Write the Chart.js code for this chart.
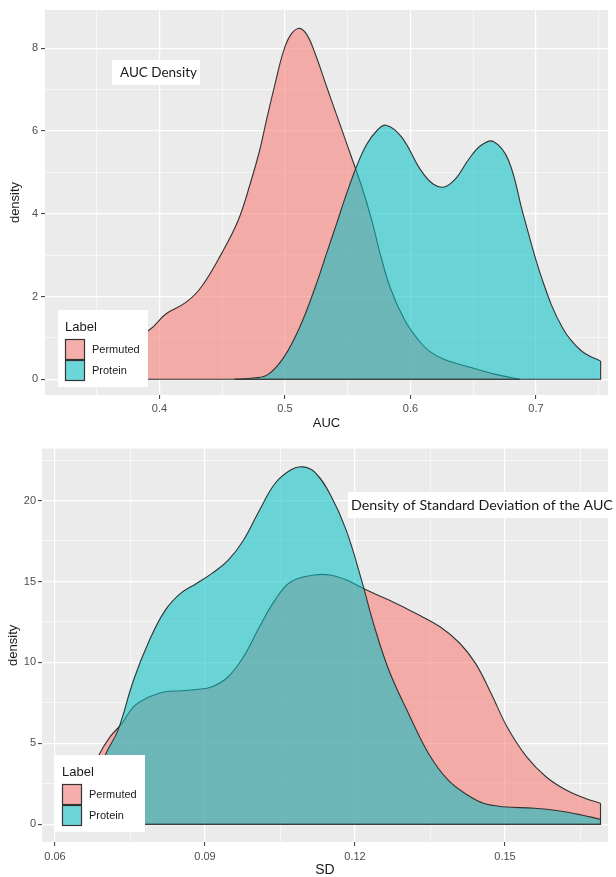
<!DOCTYPE html>
<html>
<head>
<meta charset="utf-8">
<script src="https://cdn.jsdelivr.net/npm/chart.js@4.4.1/dist/chart.umd.min.js"></script>
<style>
  html, body { margin: 0; padding: 0; background: #fff; }
  #wrap { position: relative; width: 616px; height: 877px; }
  canvas { position: absolute; left: 0; }
  #aucChart { top: 0; }
  #sdChart { top: 440px; }
</style>
</head>
<body>
<div id="wrap">
  <canvas id="aucChart" width="616" height="440"></canvas>
  <canvas id="sdChart" width="616" height="437"></canvas>
</div>
<script>
// values
const seriesLabels = ['Permuted', 'Protein'];

const aucPermutedX = [0.335, 0.35, 0.37, 0.3926, 0.405, 0.421, 0.433, 0.4496, 0.4628, 0.4725, 0.4795, 0.4855, 0.4915, 0.4985, 0.504, 0.5106, 0.517, 0.5239, 0.5332, 0.5425, 0.5518, 0.5611, 0.5691, 0.5757, 0.584, 0.595, 0.605, 0.615, 0.627, 0.649, 0.668, 0.687];
const aucPermutedY = [0, 0.35, 0.8, 1.21, 1.58, 1.86, 2.22, 3.05, 3.85, 4.75, 5.5, 6.3, 7.07, 7.9, 8.3, 8.48, 8.35, 7.88, 7.07, 6.27, 5.47, 4.66, 3.85, 3.05, 2.2, 1.45, 1.0, 0.68, 0.48, 0.28, 0.12, 0];
const aucProteinX = [0.46, 0.475, 0.4866, 0.499, 0.5116, 0.524, 0.5332, 0.5412, 0.5492, 0.5571, 0.5651, 0.5735, 0.5805, 0.5928, 0.6083, 0.618, 0.627, 0.636, 0.646, 0.656, 0.666, 0.678, 0.6897, 0.7053, 0.721, 0.736, 0.7515];
const aucProteinY = [0, 0.03, 0.12, 0.53, 1.25, 2.22, 3.05, 3.77, 4.5, 5.15, 5.68, 6.02, 6.14, 5.86, 5.05, 4.72, 4.65, 4.85, 5.3, 5.65, 5.75, 5.3, 4.0, 2.38, 1.25, 0.69, 0.44];

const sdPermutedX = [0.0625, 0.0655, 0.0686, 0.071, 0.0734, 0.0757, 0.0789, 0.082, 0.0851, 0.0883, 0.0914, 0.0946, 0.0977, 0.1009, 0.104, 0.1072, 0.1119, 0.115, 0.1182, 0.1221, 0.1268, 0.1323, 0.137, 0.1409, 0.1441, 0.1472, 0.1504, 0.1543, 0.1582, 0.1622, 0.1661, 0.1691];
const sdPermutedY = [0, 2.0, 4.18, 5.4, 6.23, 7.26, 7.88, 8.19, 8.25, 8.33, 8.5, 9.1, 10.35, 12.2, 13.85, 14.98, 15.4, 15.4, 15.1, 14.5, 13.85, 13.0, 12.2, 11.2, 9.94, 8.1, 6.03, 4.18, 2.94, 2.12, 1.6, 1.3];
const sdProteinX = [0.064, 0.067, 0.0702, 0.0726, 0.0757, 0.0789, 0.082, 0.0851, 0.0883, 0.0914, 0.0946, 0.0977, 0.1009, 0.104, 0.1072, 0.1095, 0.1119, 0.115, 0.1182, 0.1213, 0.1237, 0.1268, 0.1307, 0.1347, 0.1386, 0.1425, 0.1457, 0.1496, 0.1559, 0.1606, 0.1653, 0.1691];
const sdProteinY = [0, 2.0, 4.38, 5.82, 8.9, 11.38, 13.2, 14.26, 14.88, 15.5, 16.3, 17.55, 19.4, 21.05, 21.9, 22.08, 21.77, 20.4, 18.2, 15.1, 12.4, 9.5, 6.85, 4.38, 2.74, 1.81, 1.3, 1.09, 0.99, 0.84, 0.58, 0.31];

// tick positions
const aucMajorX = [0.4, 0.5, 0.6, 0.7];
const aucMinorX = [0.35, 0.45, 0.55, 0.65, 0.75];
const aucMajorY = [0, 2, 4, 6, 8];
const aucMinorY = [1, 3, 5, 7];
const sdMajorX = [0.06, 0.09, 0.12, 0.15];
const sdMinorX = [0.075, 0.105, 0.135, 0.165];
const sdMajorY = [0, 5, 10, 15, 20];
const sdMinorY = [2.5, 7.5, 12.5, 17.5, 22.5];

const fills = ['rgba(248,118,109,0.55)', 'rgba(0,191,196,0.55)'];
const AXIS_FONT = '"Liberation Sans", Arial, sans-serif';

const toPoints = (xs, ys) => xs.map((x, i) => ({ x: x, y: ys[i] }));

// grey panel like ggplot
const panelBg = {
  id: 'panelBg',
  beforeDraw(chart) {
    const { ctx, chartArea: a } = chart;
    ctx.save();
    ctx.fillStyle = '#ebebeb';
    ctx.fillRect(a.left, a.top, a.right - a.left, a.bottom - a.top);
    ctx.restore();
  }
};

// side edges and baseline of each density polygon
const outlineEdges = {
  id: 'outlineEdges',
  afterDatasetDraw(chart, args) {
    const ds = chart.data.datasets[args.index];
    const d = ds.data;
    const xs = chart.scales.x, ys = chart.scales.y;
    const { ctx, chartArea: a } = chart;
    const x0 = xs.getPixelForValue(d[0].x), x1 = xs.getPixelForValue(d[d.length - 1].x);
    const base = ys.getPixelForValue(0);
    ctx.save();
    ctx.beginPath();
    ctx.rect(a.left, a.top, a.right - a.left, a.bottom - a.top);
    ctx.clip();
    ctx.beginPath();
    ctx.moveTo(x0, ys.getPixelForValue(d[0].y));
    ctx.lineTo(x0, base);
    ctx.lineTo(x1, base);
    ctx.lineTo(x1, ys.getPixelForValue(d[d.length - 1].y));
    ctx.strokeStyle = ds.borderColor;
    ctx.lineWidth = ds.borderWidth;
    ctx.stroke();
    ctx.restore();
  }
};

const boxLabel = {
  id: 'boxLabel',
  afterDatasetsDraw(chart, args, o) {
    const ctx = chart.ctx;
    ctx.save();
    ctx.fillStyle = '#ffffff';
    ctx.fillRect(o.box[0], o.box[1], o.box[2], o.box[3]);
    ctx.font = '14px Lato';
    const size = 14 * o.textWidth / ctx.measureText(o.text).width;
    ctx.font = size.toFixed(2) + 'px Lato';
    ctx.fillStyle = '#1a1a1a';
    ctx.textBaseline = 'middle';
    ctx.fillText(o.text, o.tx, o.ty);
    ctx.restore();
  }
};

const ggLegend = {
  id: 'ggLegend',
  afterDraw(chart, args, o) {
    const ctx = chart.ctx;
    ctx.save();
    ctx.fillStyle = '#ffffff';
    ctx.fillRect(o.x, o.y, o.w, o.h);
    ctx.fillStyle = '#1a1a1a';
    ctx.textBaseline = 'middle';
    ctx.font = '13px ' + AXIS_FONT;
    ctx.fillText('Label', o.x + 7, o.y + 17);
    const items = seriesLabels.map(l => chart.data.datasets.find(ds => ds.label === l));
    items.forEach((ds, i) => {
      const ky = o.y + 29 + i * 21;
      const kx = o.x + 7;
      ctx.fillStyle = '#f2f2f2';
      ctx.fillRect(kx, ky, 20, 21);
      ctx.fillStyle = ds.backgroundColor;
      ctx.fillRect(kx, ky, 20, 21);
      ctx.strokeStyle = '#333333';
      ctx.lineWidth = 1.2;
      ctx.strokeRect(kx + 0.5, ky + 0.5, 19, 20);
      ctx.fillStyle = '#1a1a1a';
      ctx.font = '11px ' + AXIS_FONT;
      ctx.fillText(ds.label, o.x + 34, ky + 11);
    });
    ctx.restore();
  }
};

function ggScale(major, minor, o) {
  const all = major.concat(minor).sort((a, b) => a - b);
  return {
    type: 'linear',
    min: o.min,
    max: o.max,
    afterBuildTicks: s => { s.ticks = all.map(v => ({ value: v })); },
    afterFit: s => { if (s.isHorizontal()) s.height = o.size; else s.width = o.size; },
    border: { display: false },
    grid: {
      color: '#ffffff',
      lineWidth: c => major.includes(c.tick.value) ? 1.2 : 0.6,
      tickColor: c => major.includes(c.tick.value) ? '#333333' : 'rgba(0,0,0,0)',
      tickLength: 4,
      tickWidth: 1
    },
    ticks: {
      callback: v => major.includes(v) ? String(v) : '',
      color: '#4d4d4d',
      font: { family: AXIS_FONT, size: 11 },
      padding: o.tickPad,
      autoSkip: false,
      maxRotation: 0
    },
    title: {
      display: true,
      text: o.title,
      color: '#1a1a1a',
      font: { family: AXIS_FONT, size: o.titleSize, lineHeight: 1.2 },
      padding: o.titlePad
    }
  };
}

function densitySets(permX, permY, protX, protY) {
  return [
    { label: seriesLabels[0], data: toPoints(permX, permY), order: 1 },
    { label: seriesLabels[1], data: toPoints(protX, protY), order: 0 }
  ].map((ds, i) => Object.assign(ds, {
    backgroundColor: fills[i],
    borderColor: '#333333',
    borderWidth: 1.1,
    fill: 'origin',
    pointRadius: 0,
    tension: 0.4
  }));
}

const baseOptions = {
  responsive: false,
  animation: false,
  devicePixelRatio: 1
};

new Chart(document.getElementById('aucChart'), {
  type: 'line',
  data: { datasets: densitySets(aucPermutedX, aucPermutedY, aucProteinX, aucProteinY) },
  options: Object.assign({}, baseOptions, {
    layout: { padding: { top: 10, right: 8, left: 0, bottom: 0 } },
    scales: {
      x: ggScale(aucMajorX, aucMinorX, { min: 0.30876, max: 0.75737, size: 45, tickPad: 3, title: 'AUC', titleSize: 13, titlePad: { top: 0, bottom: 8.5 } }),
      y: ggScale(aucMajorY, aucMinorY, { min: -0.379, max: 8.926, size: 45, tickPad: 3, title: 'density', titleSize: 13, titlePad: { top: 8, bottom: 0 } })
    },
    plugins: {
      legend: { display: false },
      tooltip: { enabled: false },
      boxLabel: { text: 'AUC Density', box: [112, 60, 88, 25], tx: 120, ty: 72.5, textWidth: 77 },
      ggLegend: { x: 58, y: 310, w: 90, h: 77 }
    }
  }),
  plugins: [panelBg, outlineEdges, boxLabel, ggLegend]
});

new Chart(document.getElementById('sdChart'), {
  type: 'line',
  data: { datasets: densitySets(sdPermutedX, sdPermutedY, sdProteinX, sdProteinY) },
  options: Object.assign({}, baseOptions, {
    layout: { padding: { top: 8, right: 8, left: 0, bottom: 0 } },
    scales: {
      x: ggScale(sdMajorX, sdMinorX, { min: 0.0574, max: 0.1706, size: 35, tickPad: 4, title: 'SD', titleSize: 14, titlePad: { top: 0, bottom: -2 } }),
      y: ggScale(sdMajorY, sdMinorY, { min: -1.092, max: 23.207, size: 42, tickPad: 2, title: 'density', titleSize: 13, titlePad: { top: 6, bottom: 0 } })
    },
    plugins: {
      legend: { display: false },
      tooltip: { enabled: false },
      boxLabel: { text: 'Density of Standard Deviation of the AUC', box: [348, 52, 268, 26], tx: 351, ty: 65, textWidth: 262 },
      ggLegend: { x: 55, y: 315, w: 90, h: 77 }
    }
  }),
  plugins: [panelBg, outlineEdges, boxLabel, ggLegend]
});
</script>
</body>
</html>
